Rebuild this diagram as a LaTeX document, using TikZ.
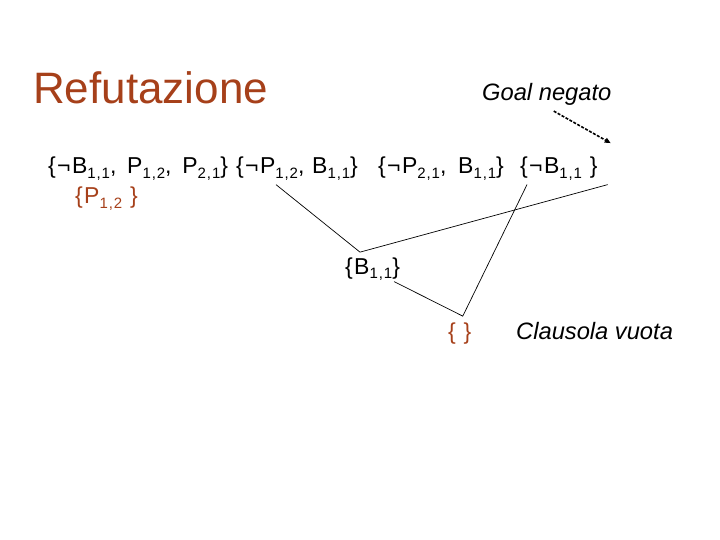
\documentclass[tikz,border=0pt]{standalone}
\usepackage{fontspec}
\setmainfont{Liberation Sans}
\newfontfamily\clfont[LetterSpace=6]{Liberation Sans}
\usetikzlibrary{arrows.meta, positioning}
\definecolor{rust}{RGB}{166,64,26}
\newcommand{\sub}[1]{\raisebox{-4.5pt}{\fontsize{15}{16}\selectfont #1}}

\begin{document}
\begin{tikzpicture}[x=1pt, y=-1pt,
  cl/.style={anchor=base west, inner sep=0pt, font=\clfont\fontsize{23}{26}\selectfont},
  note/.style={anchor=base west, inner sep=0pt, font=\fontsize{23.7}{28}\selectfont\itshape},
  ln/.style={line width=0.7pt},
  arr/.style={-{Triangle[length=6pt,width=5pt]}, line width=1.6pt, dash pattern=on 3pt off 1.5pt}
]
  \useasboundingbox (0,0) rectangle (720,540);
  \node[anchor=base west, inner sep=0pt, text=rust, font=\fontsize{44}{50}\selectfont] (title) at (33,104) {Refutazione};

  \node[note] (goal) at (482,101) {Goal negato};

  \node[cl] (c1) at (48,174)  {\{¬B\sub{1,1}, \hspace{3pt}P\sub{1,2}, \hspace{3pt}P\sub{2,1}\}};
  \node[cl] (c2) at (236,174) {\{¬P\sub{1,2}, B\sub{1,1}\}};
  \node[cl] (c3) at (378,174) {\{¬P\sub{2,1}, \hspace{4pt}B\sub{1,1}\}};
  \node[cl] (c4) at (520,174) {\{¬B\sub{1,1} \}};
  \node[cl, text=rust] (p12) at (75,204) {\{P\sub{1,2} \}};

  \node[cl] (b11) at (345,274) {\{B\sub{1,1}\}};
  \node[cl, text=rust] (empty) at (448,339) {\{ \}};
  \node[note] (vuota) at (516,339) {Clausola vuota};

  \draw[arr] ([xshift=7pt,yshift=-5pt]goal.south) -- ([xshift=13pt,yshift=14pt]c4.north east);

  \draw[ln] ([xshift=40pt,yshift=-4pt]c2.south west) -- ([xshift=15pt,yshift=5pt]b11.north west)
            -- ([xshift=10pt,yshift=-4pt]c4.south east);
  \draw[ln] ([xshift=-6pt,yshift=-1pt]b11.south east) -- ([xshift=3pt,yshift=6pt]empty.north)
            -- ([xshift=7pt,yshift=-4pt]c4.south west);
\end{tikzpicture}
\end{document}
